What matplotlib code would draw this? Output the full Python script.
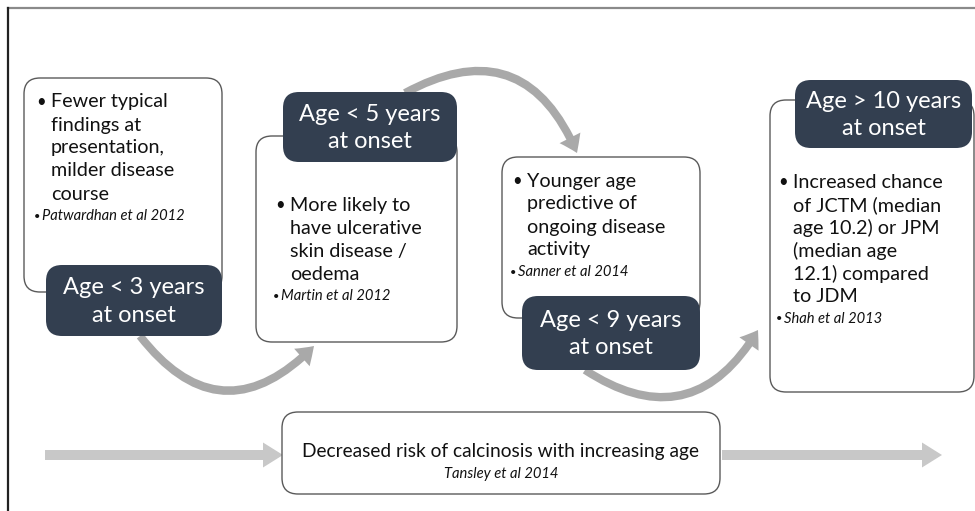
import matplotlib
matplotlib.use("Agg")
import matplotlib.pyplot as plt
from matplotlib.patches import FancyBboxPatch, FancyArrowPatch

plt.rcParams['font.family'] = ['Lato', 'DejaVu Sans']

# text content
age_labels = ["Age < 3 years\nat onset", "Age < 5 years\nat onset",
              "Age < 9 years\nat onset", "Age > 10 years\nat onset"]
findings = [
    ["Fewer typical", "findings at", "presentation,", "milder disease", "course"],
    ["More likely to", "have ulcerative", "skin disease /", "oedema"],
    ["Younger age", "predictive of", "ongoing disease", "activity"],
    ["Increased chance", "of JCTM (median", "age 10.2) or JPM", "(median age",
     "12.1) compared", "to JDM"],
]
citations = ["Patwardhan et al 2012", "Martin et al 2012",
             "Sanner et al 2014", "Shah et al 2013"]
bottom_text = "Decreased risk of calcinosis with increasing age"
bottom_cite = "Tansley et al 2014"

# layout (pixels)
white_boxes = [(24, 78, 198, 214), (256, 136, 201, 206),
               (502, 157, 198, 161), (770, 100, 204, 292)]
dark_boxes = [(46, 265, 176, 71), (283, 92, 174, 70),
              (522, 296, 178, 74), (795, 80, 177, 68)]
text_top = [102, 205, 181, 182]
text_x = [51, 290, 527, 793]
line_h = 23.0

dark = '#333f50'
edge = '#5a5a5a'

fig = plt.figure(figsize=(9.75, 5.11), dpi=100)
ax = fig.add_axes([0, 0, 1, 1])
ax.set_xlim(0, 975)
ax.set_ylim(511, 0)
ax.axis('off')

# frame lines
ax.plot([8, 975], [8, 8], color='#8a8a8a', lw=1.6)
ax.plot([8, 8], [8, 511], color='#222222', lw=1.6)


def rbox(x, y, w, h, fc, ec, z):
    p = FancyBboxPatch((x, y), w, h, boxstyle="round,pad=0,rounding_size=16",
                       fc=fc, ec=ec, lw=1.0, zorder=z)
    ax.add_patch(p)


for i in range(4):
    x, y, w, h = white_boxes[i]
    rbox(x, y, w, h, 'white', edge, 2)
    dx, dy, dw, dh = dark_boxes[i]
    rbox(dx, dy, dw, dh, dark, 'none', 4)
    ax.text(dx + dw / 2, dy + dh / 2 + 1, age_labels[i], color='white',
            fontsize=17, ha='center', va='center', linespacing=1.38, zorder=5)
    ty = text_top[i]
    for j, line in enumerate(findings[i]):
        ax.text(text_x[i], ty + j * line_h, line, fontsize=14.2,
                ha='left', va='center', color='#111111', zorder=5)
    ax.text(text_x[i] - 15, ty, '\u2022', fontsize=12, ha='left',
            va='center', color='#111111', zorder=5)
    cy = ty + len(findings[i]) * line_h - 1
    ax.text(text_x[i] - 17, cy, '\u2022', fontsize=8, ha='left',
            va='center', color='#111111', zorder=5)
    ax.text(text_x[i] - 9, cy, citations[i], fontsize=10.6, style='italic',
            ha='left', va='center', color='#111111', zorder=5)

# curved arrows
curves = [((140, 336), (314, 346), 0.57),
          ((405, 93), (577, 153), -0.55),
          ((585, 370), (758, 330), 0.52)]
for a, b, rad in curves:
    arr = FancyArrowPatch(a, b, connectionstyle=f"arc3,rad={rad}",
                          arrowstyle="simple,head_length=1.0,head_width=1.4,tail_width=0.48",
                          mutation_scale=12, color='#a9a9a9', lw=0,
                          shrinkA=0, shrinkB=0, zorder=3)
    ax.add_patch(arr)

# bottom band
for a, b in [((45, 455), (283, 455)), ((722, 455), (942, 455))]:
    arr = FancyArrowPatch(a, b, arrowstyle="simple,head_length=1.2,head_width=1.5,tail_width=0.6",
                          mutation_scale=12, color='#c8c8c8', lw=0,
                          shrinkA=0, shrinkB=0, zorder=1)
    ax.add_patch(arr)

rbox(282, 412, 438, 82, 'white', edge, 2)
ax.text(501, 451, bottom_text, fontsize=13.8, ha='center', va='center',
        color='#111111', zorder=5)
ax.text(501, 474, bottom_cite, fontsize=10.6, style='italic', ha='center',
        va='center', color='#111111', zorder=5)

fig.savefig('out.png', dpi=100)
